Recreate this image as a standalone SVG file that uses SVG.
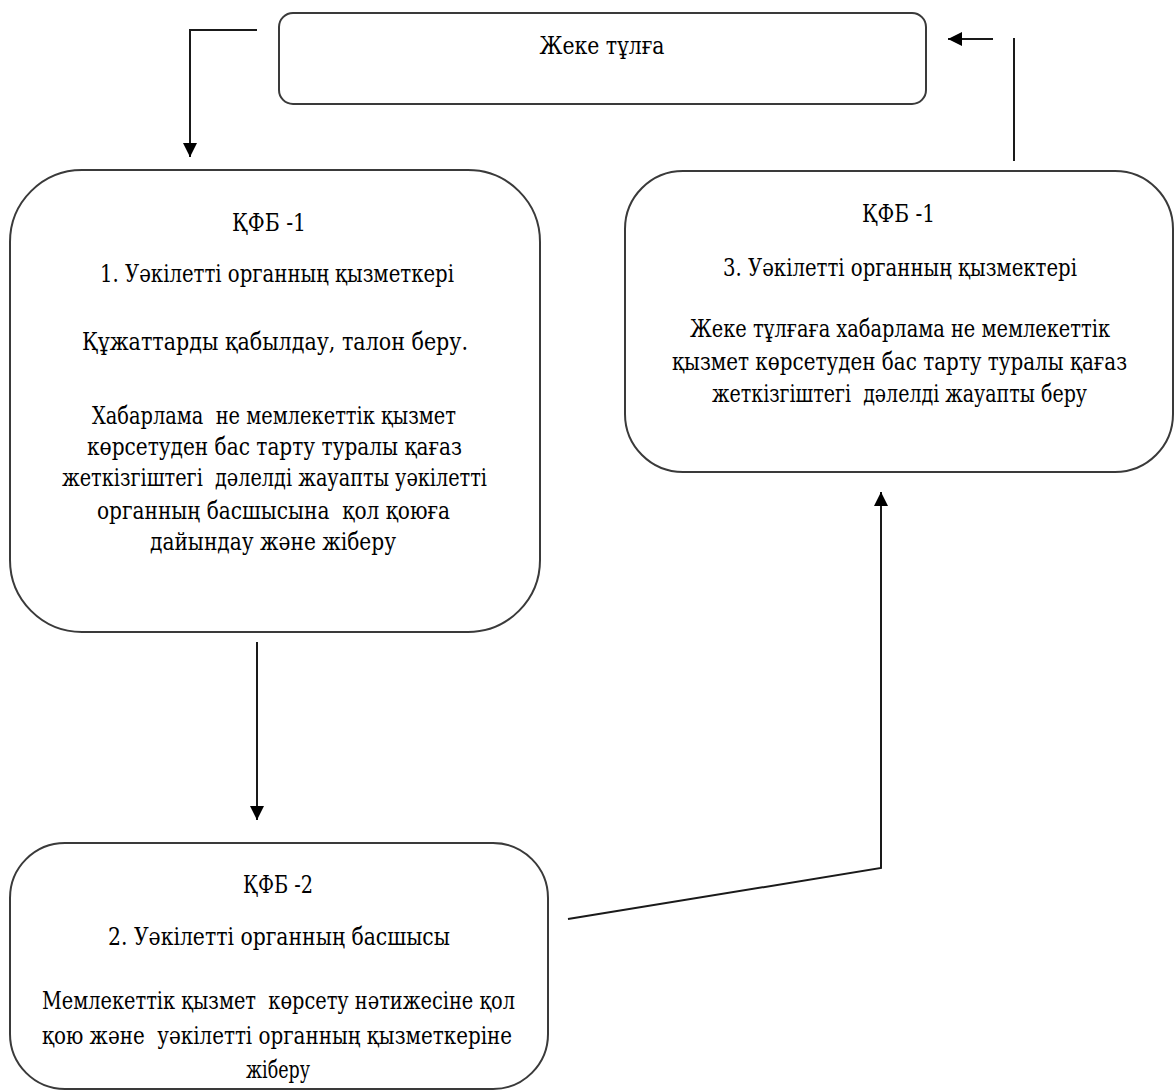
<svg xmlns="http://www.w3.org/2000/svg" width="1174" height="1091" viewBox="0 0 1174 1091" xml:space="preserve">
<style>
.box{fill:#fff;stroke:#3a3a3a;stroke-width:2}
.t{font-size:24px;fill:#000;text-anchor:middle;white-space:pre;font-stretch:condensed}
.c{fill:none;stroke:#1a1a1a;stroke-width:2}
</style>
<defs>
<marker id="ah" viewBox="0 0 10 10" refX="10" refY="5" markerWidth="7" markerHeight="7" markerUnits="strokeWidth" orient="auto">
<path d="M0,0 L10,5 L0,10 z" fill="#000"/>
</marker>
</defs>
<rect width="1174" height="1091" fill="#fff"/>
<g id="connectors">
<path class="c" d="M257,30 H190 V157" marker-end="url(#ah)"/>
<path class="c" d="M1014,161 V38"/>
<path class="c" d="M993,39 H948" marker-end="url(#ah)"/>
<path class="c" d="M257,642 V820" marker-end="url(#ah)"/>
<path class="c" d="M568,919 L881,868 V492" marker-end="url(#ah)"/>
</g>
<g font-family="DejaVu Serif, serif">
<g id="node-person">
<rect class="box" x="279" y="13" width="647" height="91" rx="14"/>
<text class="t" x="602" y="54" textLength="125" lengthAdjust="spacingAndGlyphs">Жеке тұлға</text>
</g>
<g id="node-step1">
<rect class="box" x="10" y="170" width="530" height="462" rx="72"/>
<text class="t" x="269" y="231" textLength="74" lengthAdjust="spacingAndGlyphs">ҚФБ -1</text>
<text class="t" x="277" y="282" textLength="354" lengthAdjust="spacingAndGlyphs">1. Уәкілетті органның қызметкері</text>
<text class="t" x="275" y="350" textLength="386" lengthAdjust="spacingAndGlyphs">Құжаттарды қабылдау, талон беру.</text>
<text class="t" x="274" y="424" textLength="364" lengthAdjust="spacingAndGlyphs">Хабарлама  не мемлекеттік қызмет</text>
<text class="t" x="274.5" y="455" textLength="375" lengthAdjust="spacingAndGlyphs">көрсетуден бас тарту туралы қағаз</text>
<text class="t" x="274.5" y="486" textLength="425" lengthAdjust="spacingAndGlyphs">жеткізгіштегі  дәлелді жауапты уәкілетті</text>
<text class="t" x="273.5" y="519" textLength="353" lengthAdjust="spacingAndGlyphs">органның басшысына  қол қоюға</text>
<text class="t" x="273" y="550" textLength="246" lengthAdjust="spacingAndGlyphs">дайындау және жіберу</text>
</g>
<g id="node-step3">
<rect class="box" x="625" y="171" width="548" height="301" rx="58"/>
<text class="t" x="898.5" y="222" textLength="73" lengthAdjust="spacingAndGlyphs">ҚФБ -1</text>
<text class="t" x="900" y="276" textLength="354" lengthAdjust="spacingAndGlyphs">3. Уәкілетті органның қызмектері</text>
<text class="t" x="900" y="337" textLength="420" lengthAdjust="spacingAndGlyphs">Жеке тұлғаға хабарлама не мемлекеттік</text>
<text class="t" x="899.5" y="370" textLength="455" lengthAdjust="spacingAndGlyphs">қызмет көрсетуден бас тарту туралы қағаз</text>
<text class="t" x="899.5" y="402" textLength="375" lengthAdjust="spacingAndGlyphs">жеткізгіштегі  дәлелді жауапты беру</text>
</g>
<g id="node-step2">
<rect class="box" x="10" y="843" width="538" height="246" rx="55"/>
<text class="t" x="278" y="893" textLength="70" lengthAdjust="spacingAndGlyphs">ҚФБ -2</text>
<text class="t" x="279" y="945" textLength="342" lengthAdjust="spacingAndGlyphs">2. Уәкілетті органның басшысы</text>
<text class="t" x="278.5" y="1009" textLength="473" lengthAdjust="spacingAndGlyphs">Мемлекеттік қызмет  көрсету нәтижесіне қол</text>
<text class="t" x="277" y="1044" textLength="470" lengthAdjust="spacingAndGlyphs">қою және  уәкілетті органның қызметкеріне</text>
<text class="t" x="278" y="1078" textLength="64" lengthAdjust="spacingAndGlyphs">жіберу</text>
</g>
</g>
</svg>
